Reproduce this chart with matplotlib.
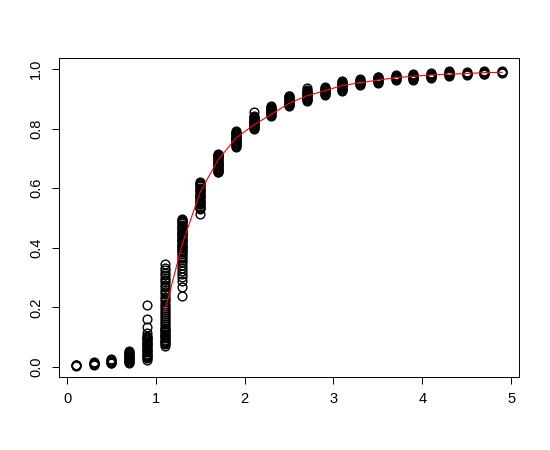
import matplotlib
matplotlib.use("Agg")
import matplotlib.pyplot as plt

plt.rcParams['font.family'] = ['Liberation Sans', 'DejaVu Sans']

x_pos = [0.1, 0.3, 0.5, 0.7, 0.9, 1.1, 1.3, 1.5, 1.7, 1.9, 2.1, 2.3, 2.5,
         2.7, 2.9, 3.1, 3.3, 3.5, 3.7, 3.9, 4.1, 4.3, 4.5, 4.7, 4.9]

y_obs = [
    [0.003, 0.005, 0.006, 0.008],
    [0.008, 0.010, 0.012, 0.014, 0.016],
    [0.012, 0.015, 0.018, 0.020, 0.023, 0.026],
    [0.014, 0.017, 0.020, 0.023, 0.026, 0.029, 0.032, 0.035, 0.038, 0.041,
     0.044, 0.047, 0.050, 0.054],
    [0.025, 0.029, 0.033, 0.037, 0.041, 0.045, 0.049, 0.053, 0.057, 0.061,
     0.065, 0.069, 0.073, 0.077, 0.081, 0.085, 0.089, 0.093, 0.097, 0.101,
     0.105, 0.114, 0.135, 0.160, 0.207],
    [0.072, 0.076, 0.080, 0.084, 0.088, 0.092, 0.096, 0.100, 0.104, 0.108,
     0.112, 0.116, 0.120, 0.124, 0.128, 0.132, 0.137, 0.143, 0.150, 0.157,
     0.164, 0.171, 0.178, 0.185, 0.192, 0.199, 0.206, 0.213, 0.220, 0.228,
     0.236, 0.244, 0.252, 0.260, 0.268, 0.276, 0.284, 0.292, 0.300, 0.308,
     0.316, 0.324, 0.333, 0.344],
    [0.238, 0.270, 0.290, 0.302, 0.312, 0.322, 0.332, 0.342, 0.352, 0.360,
     0.367, 0.374, 0.380, 0.385, 0.390, 0.394, 0.398, 0.402, 0.406, 0.410,
     0.414, 0.418, 0.422, 0.426, 0.430, 0.434, 0.438, 0.442, 0.446, 0.450,
     0.454, 0.458, 0.462, 0.466, 0.470, 0.474, 0.478, 0.482, 0.486, 0.490,
     0.494, 0.498],
    [0.512, 0.530, 0.534, 0.538, 0.542, 0.546, 0.550, 0.554, 0.558, 0.562,
     0.566, 0.570, 0.574, 0.578, 0.582, 0.586, 0.590, 0.594, 0.598, 0.602,
     0.606, 0.610, 0.614, 0.618, 0.621],
    [0.653, 0.656, 0.659, 0.662, 0.665, 0.668, 0.671, 0.674, 0.677, 0.680,
     0.683, 0.686, 0.689, 0.692, 0.695, 0.698, 0.701, 0.704, 0.707, 0.710,
     0.713, 0.716],
    [0.740, 0.743, 0.746, 0.749, 0.752, 0.755, 0.758, 0.761, 0.764, 0.767,
     0.770, 0.773, 0.776, 0.779, 0.782, 0.785, 0.788, 0.791],
    [0.800, 0.803, 0.806, 0.809, 0.812, 0.815, 0.818, 0.821, 0.824, 0.827,
     0.830, 0.833, 0.836, 0.839, 0.842, 0.856],
    [0.843, 0.846, 0.849, 0.852, 0.855, 0.858, 0.861, 0.864, 0.867, 0.870,
     0.873, 0.876],
    [0.875, 0.878, 0.881, 0.884, 0.887, 0.890, 0.893, 0.896, 0.899, 0.902,
     0.905, 0.908, 0.910],
    [0.894, 0.897, 0.900, 0.903, 0.906, 0.909, 0.912, 0.915, 0.918, 0.921,
     0.924, 0.927, 0.930, 0.935],
    [0.913, 0.916, 0.919, 0.922, 0.925, 0.928, 0.931, 0.934, 0.937, 0.939],
    [0.927, 0.930, 0.933, 0.936, 0.939, 0.942, 0.945, 0.948, 0.951, 0.954,
     0.957, 0.959],
    [0.946, 0.949, 0.952, 0.955, 0.958, 0.961, 0.964, 0.967],
    [0.954, 0.957, 0.960, 0.963, 0.966, 0.969, 0.972, 0.975],
    [0.963, 0.966, 0.969, 0.972, 0.975, 0.978, 0.981],
    [0.963, 0.966, 0.969, 0.972, 0.975, 0.978, 0.981, 0.985],
    [0.969, 0.972, 0.975, 0.978, 0.981, 0.984, 0.986],
    [0.976, 0.979, 0.982, 0.985, 0.988, 0.991, 0.993],
    [0.979, 0.982, 0.985, 0.988, 0.991],
    [0.982, 0.985, 0.988, 0.991, 0.994],
    [0.987, 0.989, 0.991, 0.993],
]

# red curve
x_fit = [1.1, 1.3, 1.5, 1.7, 1.9, 2.1, 2.3, 2.5, 2.7, 2.9, 3.1, 3.3, 3.5,
         3.7, 3.9, 4.1, 4.3, 4.5, 4.7, 4.9]
y_fit = [0.186, 0.415, 0.588, 0.695, 0.768, 0.812, 0.848, 0.885, 0.910,
         0.927, 0.945, 0.954, 0.963, 0.971, 0.976, 0.980, 0.983, 0.985,
         0.988, 0.989]

fig = plt.figure(figsize=(5.5, 4.5), dpi=100)
ax = fig.add_axes([0.107, 0.162, 0.837, 0.709])

for x, ys in zip(x_pos, y_obs):
    ax.plot([x] * len(ys), ys, linestyle='none', marker='o', markersize=6.3,
            markerfacecolor='none', markeredgecolor='black',
            markeredgewidth=1.0)

ax.plot(x_fit, y_fit, color='red', linewidth=0.8)

ax.set_xlim(-0.092, 5.092)
ax.set_ylim(-0.034, 1.037)
ax.set_xticks([0, 1, 2, 3, 4, 5])
ax.set_yticks([0.0, 0.2, 0.4, 0.6, 0.8, 1.0])
ax.set_yticklabels(['0.0', '0.2', '0.4', '0.6', '0.8', '1.0'],
                   rotation=90, va='center')
ax.tick_params(direction='out', length=5, width=0.7, labelsize=10.5)
ax.tick_params(axis='x', pad=5.5)
ax.tick_params(axis='y', pad=6.5)
for s in ax.spines.values():
    s.set_linewidth(0.7)

fig.savefig('out.png', dpi=100)
